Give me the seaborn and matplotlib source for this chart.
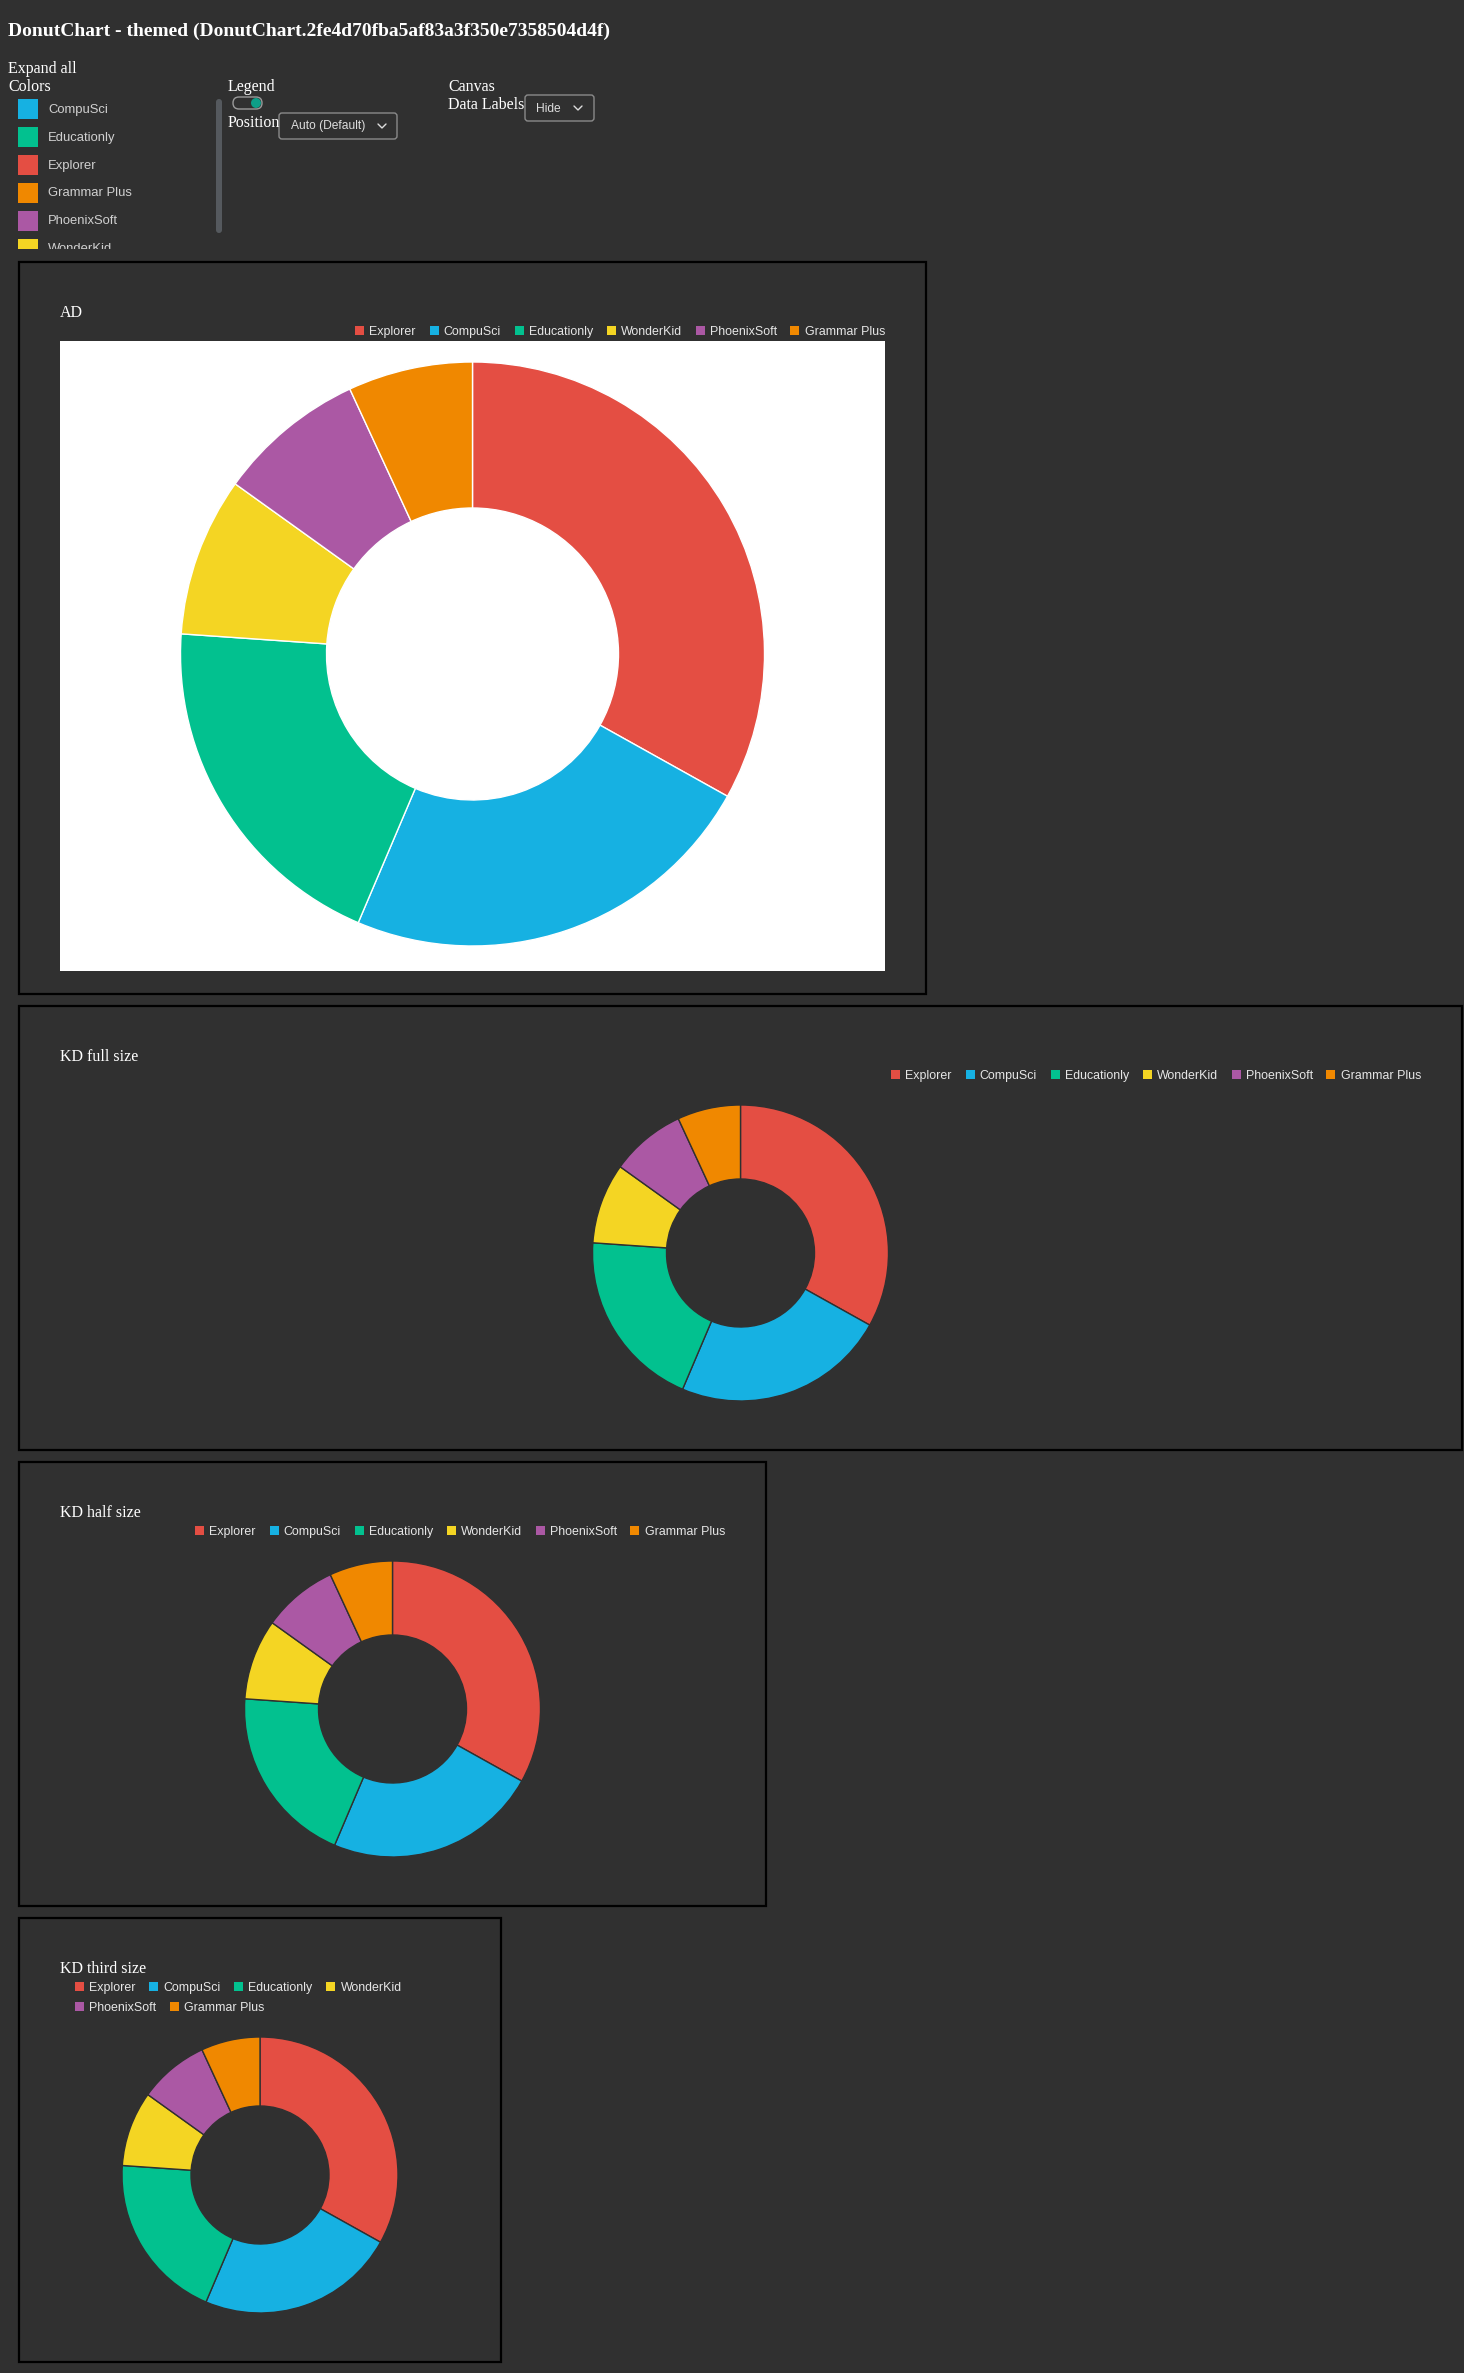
import numpy as np
import seaborn as sns
import matplotlib.pyplot as plt
from matplotlib.patches import Rectangle, FancyBboxPatch, Circle, Patch
from matplotlib.lines import Line2D

# data
names = ['Explorer', 'CompuSci', 'Educationly', 'WonderKid', 'PhoenixSoft', 'Grammar Plus']
values = [33.1, 23.3, 19.7, 8.8, 8.2, 6.9]
hexColors = ['#e44e43', '#16b1e2', '#02c18f', '#f4d523', '#ab58a4', '#f08800']
colorListNames = ['CompuSci', 'Educationly', 'Explorer', 'Grammar Plus', 'PhoenixSoft', 'WonderKid']
panelTitles = ['AD', 'KD full size', 'KD half size', 'KD third size']
pageTitle = 'DonutChart - themed (DonutChart.2fe4d70fba5af83a3f350e7358504d4f)'

sns.set_theme(style='dark')
palette = sns.color_palette(hexColors)
colorOf = dict(zip(names, palette))

BG = '#303030'
W, H = 1464, 2373
SERIF = ['Liberation Serif', 'DejaVu Serif']
SANS = ['Liberation Sans', 'DejaVu Sans']
plt.rcParams['font.family'] = SANS

fig = plt.figure(figsize=(W/100, H/100), dpi=100, facecolor=BG)
ax_ui = fig.add_axes([0, 0, 1, 1])
ax_ui.set_xlim(0, W)
ax_ui.set_ylim(H, 0)
ax_ui.set_axis_off()

def px(v):
    return v*0.72

# header
ax_ui.text(8, 36, pageTitle, family=SERIF, fontweight='bold', fontsize=px(19.5), color='white', va='baseline')
ax_ui.text(8, 73, 'Expand all', family=SERIF, fontsize=px(16), color='white', va='baseline')
ax_ui.text(8, 91, 'Colors', family=SERIF, fontsize=px(16), color='white', va='baseline')

for i, nm in enumerate(colorListNames):
    yTop = 99 + 28*i
    ax_ui.add_patch(Rectangle((18, yTop), 20, 20, facecolor=colorOf[nm], edgecolor='none'))
    ax_ui.text(48, yTop+10.5, nm, fontsize=px(13), color='#d0d0d0', va='center')
# the colour list is a scrolled box, cut off at its bottom
ax_ui.add_patch(Rectangle((0, 249), 212, 11, facecolor=BG, edgecolor='none', zorder=5))
ax_ui.add_patch(FancyBboxPatch((216, 99), 6, 134, boxstyle='round,pad=0,rounding_size=3',
                               facecolor='#55595e', edgecolor='none'))

ax_ui.text(228, 91, 'Legend', family=SERIF, fontsize=px(16), color='white', va='baseline')
ax_ui.add_patch(FancyBboxPatch((233, 97), 29, 12, boxstyle='round,pad=0,rounding_size=6',
                               facecolor=BG, edgecolor='#9a9a9a', linewidth=1))
ax_ui.add_patch(Circle((256, 103), 5, facecolor='#0e9e88', edgecolor='none'))
ax_ui.text(228, 127, 'Position', family=SERIF, fontsize=px(16), color='white', va='baseline')
ax_ui.add_patch(FancyBboxPatch((279, 113), 118, 26, boxstyle='round,pad=0,rounding_size=3',
                               facecolor='none', edgecolor='#8a8a8a', linewidth=1))
ax_ui.text(291, 126.5, 'Auto (Default)', fontsize=px(12), color='#dddddd', va='center')
ax_ui.add_line(Line2D([378, 382, 386], [124, 128, 124], color='#dddddd', linewidth=1))

ax_ui.text(448, 91, 'Canvas', family=SERIF, fontsize=px(16), color='white', va='baseline')
ax_ui.text(448, 109, 'Data Labels', family=SERIF, fontsize=px(16), color='white', va='baseline')
ax_ui.add_patch(FancyBboxPatch((525, 95), 69, 26, boxstyle='round,pad=0,rounding_size=3',
                               facecolor='none', edgecolor='#8a8a8a', linewidth=1))
ax_ui.text(536, 108.5, 'Hide', fontsize=px(12), color='#dddddd', va='center')
ax_ui.add_line(Line2D([574, 578, 582], [106, 110, 106], color='#dddddd', linewidth=1))

# panels: (x0, y0, x1, y1), donut center y, radius
panelBoxes = [(19, 262, 926, 994), (19, 1006, 1462, 1450), (19, 1462, 766, 1906), (19, 1918, 501, 2362)]
donutCy = [654, 1253, 1709, 2175]
donutR = [292, 148, 148, 138]

handles = [Patch(facecolor=c, edgecolor='none', label=n) for n, c in zip(names, palette)]
legKw = dict(frameon=False, fontsize=px(12.4), handlelength=0.72, handleheight=0.72,
             handletextpad=0.42, columnspacing=1.1, borderpad=0, borderaxespad=0,
             labelcolor='#e6e6e6', bbox_transform=ax_ui.transData)

for k, title in enumerate(panelTitles):
    x0, y0, x1, y1 = panelBoxes[k]
    ax_ui.add_patch(Rectangle((x0, y0), x1-x0, y1-y0, fill=False, edgecolor='black', linewidth=1.6))
    ax_ui.text(x0+41, y0+55, title, family=SERIF, fontsize=px(16), color='white', va='baseline')
    edge = BG
    if k == 0:
        ax_ui.add_patch(Rectangle((60, 341), 825, 630, facecolor='white', edgecolor='none'))
        edge = 'white'
    if k < 3:
        fig.legend(handles=handles, ncol=6, loc='center right',
                   bbox_to_anchor=(x1-41, y0+70), **legKw)
    else:
        fig.legend(handles=handles[:4], ncol=4, loc='center left',
                   bbox_to_anchor=(75, y0+70), **legKw)
        fig.legend(handles=handles[4:], ncol=2, loc='center left',
                   bbox_to_anchor=(75, y0+90), **legKw)

    cx, cy, r = (x0+x1)/2, donutCy[k], donutR[k]
    ax = fig.add_axes([(cx-r)/W, 1-(cy+r)/H, 2*r/W, 2*r/H])
    ax.pie(values, colors=palette, startangle=90, counterclock=False, radius=1,
           wedgeprops=dict(width=0.5, edgecolor=edge, linewidth=1))
    ax.set_xlim(-1, 1)
    ax.set_ylim(-1, 1)
    ax.set_axis_off()

fig.savefig('out.png', dpi=100, facecolor=BG)
